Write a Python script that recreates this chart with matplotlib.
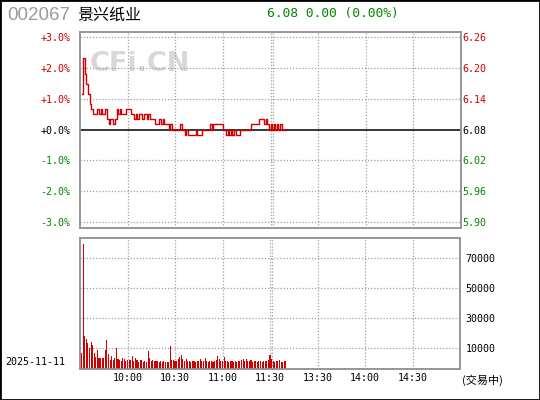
import matplotlib
matplotlib.use("Agg")
import matplotlib.pyplot as plt
from matplotlib.patches import Rectangle

# ---------------- data ----------------
stock_code = "002067"
stock_name = "景兴纸业"
quote_text = "6.08 0.00 (0.00%)"
date_text = "2025-11-11"
status_text = "(交易中)"
prev_close = 6.08

pct_ticks = [3, 2, 1, 0, -1, -2, -3]
pct_labels = ["+3.0%", "+2.0%", "+1.0%", "+0.0%", "-1.0%", "-2.0%", "-3.0%"]
price_labels = ["6.26", "6.20", "6.14", "6.08", "6.02", "5.96", "5.90"]

time_ticks = [30, 60, 90, 120, 150, 180, 210]
time_labels = ["10:00", "10:30", "11:00", "11:30", "13:30", "14:00", "14:30"]

vol_ticks = [10000, 30000, 50000, 70000]
vol_labels = ["10000", "30000", "50000", "70000"]

prices = [
    6.15, 6.22, 6.19, 6.17, 6.15, 6.13, 6.12, 6.11, 6.11, 6.11,
    6.12, 6.11, 6.12, 6.11, 6.11, 6.12, 6.10, 6.09, 6.10, 6.10,
    6.09, 6.10, 6.12, 6.11, 6.12, 6.11, 6.11, 6.11, 6.12, 6.12,
    6.12, 6.11, 6.11, 6.10, 6.11, 6.10, 6.11, 6.11, 6.10, 6.11,
    6.11, 6.10, 6.11, 6.10, 6.10, 6.10, 6.09, 6.09, 6.09, 6.10,
    6.09, 6.10, 6.09, 6.09, 6.09, 6.08, 6.09, 6.08, 6.08, 6.08,
    6.08, 6.08, 6.09, 6.08, 6.08, 6.07, 6.08, 6.07, 6.07, 6.07,
    6.07, 6.07, 6.08, 6.07, 6.07, 6.07, 6.08, 6.08, 6.08, 6.08,
    6.08, 6.09, 6.08, 6.09, 6.09, 6.09, 6.09, 6.09, 6.09, 6.08,
    6.08, 6.07, 6.08, 6.07, 6.08, 6.07, 6.08, 6.07, 6.07, 6.07,
    6.08, 6.08, 6.08, 6.08, 6.08, 6.08, 6.08, 6.09, 6.09, 6.09,
    6.09, 6.09, 6.10, 6.10, 6.10, 6.09, 6.10, 6.09, 6.08, 6.09,
    6.08, 6.09, 6.08, 6.09, 6.08, 6.09, 6.08, 6.08, 6.08, 6.08,
]

volumes = [
    6400, 79300, 18000, 16000, 13100, 9800, 14000, 12000, 6900, 4200,
    8700, 3500, 3500, 3500, 3500, 8700, 15300, 6000, 2000, 4700,
    2000, 3300, 10200, 2700, 2000, 1300, 3300, 2700, 1300, 2000,
    2000, 2000, 4700, 1300, 3300, 2000, 700, 2000, 2000, 700,
    1300, 700, 8000, 3300, 1300, 2000, 1300, 1300, 1300, 700,
    1300, 700, 1300, 700, 700, 700, 11300, 2000, 2000, 1300,
    1300, 2700, 4000, 5300, 2700, 1300, 2700, 1300, 1300, 700,
    1300, 1300, 700, 1300, 1300, 2400, 1300, 1300, 3300, 1300,
    700, 1300, 1300, 700, 1300, 2000, 4700, 2400, 1300, 1300,
    4200, 1300, 1300, 700, 1300, 1300, 700, 1300, 700, 1300,
    1300, 2000, 2400, 1300, 2700, 1300, 1300, 2000, 700, 1300,
    1300, 700, 1300, 1300, 700, 1300, 1300, 1300, 2000, 5300,
    2400, 1300, 700, 1300, 1300, 1800, 700, 700, 1300, 1300,
]

minutes = list(range(1, len(prices) + 1))
pct = [(p / prev_close - 1) * 100 for p in prices]

# ---------------- style ----------------
RED = "#d00000"
GREEN = "#008800"
GRID = "#a0a0a0"
SPINE = "#969696"
MONO = "DejaVu Sans Mono"
CJK = ["Noto Sans CJK SC", "DejaVu Sans"]

fig = plt.figure(figsize=(5.4, 4.0), dpi=100)
fig.patch.set_facecolor("white")
fig.add_artist(Rectangle((0, 0), 1, 1, transform=fig.transFigure,
                         fill=False, edgecolor="black", linewidth=2))

W, H = 540.0, 400.0
def ax_rect(l, t, r, b):
    return [l / W, 1 - b / H, (r - l) / W, (b - t) / H]

def style_axes(ax):
    for s in ax.spines.values():
        s.set_color(SPINE)
        s.set_linewidth(1.2)
    ax.tick_params(length=0)

# ---------------- price panel ----------------
ax = fig.add_axes(ax_rect(80, 32, 461, 228))
style_axes(ax)
ax.set_xlim(0, 240)
ax.set_ylim(-3.19, 3.16)
for t in time_ticks:
    ax.axvline(t, color=GRID, linestyle=(0, (1, 1.5)), linewidth=0.9, zorder=1)
ax.axvline(121.3, color=GRID, linestyle=(0, (1, 1.5)), linewidth=0.9, zorder=1)
for v in pct_ticks:
    if v != 0:
        ax.axhline(v, color=GRID, linestyle=(0, (1, 1.5)), linewidth=0.9, zorder=1)
ax.axhline(0, color="black", linewidth=1.1, zorder=2)
ax.plot(minutes, pct, color=RED, linewidth=1.0, drawstyle="steps-post", zorder=3)
ax.set_xticks([])
ax.set_yticks(pct_ticks)
ax.set_yticklabels(pct_labels, fontfamily=MONO, fontsize=7.2)
ax.tick_params(axis="y", pad=7)
ax2 = ax.twinx()
style_axes(ax2)
ax2.set_ylim(ax.get_ylim())
ax2.set_yticks(pct_ticks)
ax2.set_yticklabels(price_labels, fontfamily=MONO, fontsize=7.2)
ax2.tick_params(axis="y", pad=1)
for lab_set in (ax.get_yticklabels(), ax2.get_yticklabels()):
    for lab, v in zip(lab_set, pct_ticks):
        lab.set_color(RED if v > 0 else (GREEN if v < 0 else "black"))

ax.text(0.026, 0.837, "CFi.CN", transform=ax.transAxes, fontsize=19.5,
        fontweight="bold", color="#d8d8d8", family="DejaVu Sans",
        ha="left", va="center", zorder=0)

# ---------------- volume panel ----------------
VOL_FLOOR = -4000
bx = fig.add_axes(ax_rect(80, 238, 460, 369))
style_axes(bx)
bx.set_xlim(0, 240)
bx.set_ylim(VOL_FLOOR, 83300)
for t in time_ticks:
    bx.axvline(t, color=GRID, linestyle=(0, (1, 1.5)), linewidth=0.9, zorder=1)
bx.axvline(121.3, color=GRID, linestyle=(0, (1, 1.5)), linewidth=0.9, zorder=1)
for v in vol_ticks:
    bx.axhline(v, color=GRID, linestyle=(0, (1, 1.5)), linewidth=0.9, zorder=1)
bx.bar(minutes, [v - VOL_FLOOR for v in volumes], bottom=VOL_FLOOR,
       width=0.68, color=RED, linewidth=0, zorder=3)
bx.set_yticks([])
bx.set_xticks(time_ticks)
bx.set_xticklabels(time_labels, fontfamily=MONO, fontsize=7.2)
bx.tick_params(axis="x", pad=3)
bx2 = bx.twinx()
style_axes(bx2)
bx2.set_ylim(bx.get_ylim())
bx2.set_yticks(vol_ticks)
bx2.set_yticklabels(vol_labels, fontfamily=MONO, fontsize=7.2)
bx2.tick_params(axis="y", pad=4)

# ---------------- header / footer text ----------------
fig.text(7 / W, 1 - 16 / H, stock_code, fontsize=13.5, color="#9a9a9a",
         family="Liberation Sans", ha="left", va="center")
fig.text(77 / W, 1 - 15 / H, stock_name, fontsize=11.5, color="black",
         family=CJK, ha="left", va="center")
fig.text(267 / W, 1 - 14 / H, quote_text, fontsize=9.3, color=GREEN,
         family=MONO, ha="left", va="center")
fig.text(5 / W, 1 - 362 / H, date_text, fontsize=7.2, color="black",
         family=MONO, ha="left", va="center")
fig.text(462 / W, 1 - 380 / H, status_text, fontsize=8, color="black",
         family=CJK, ha="left", va="center")

fig.savefig("out.png", dpi=100, facecolor="white")
